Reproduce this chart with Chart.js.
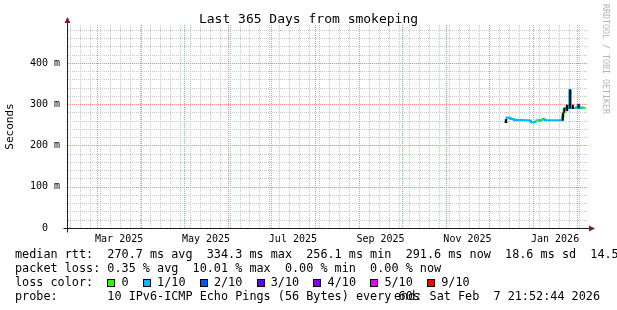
<!DOCTYPE html>
<html><head><meta charset="utf-8">
<script src="https://cdn.jsdelivr.net/npm/chart.js@4.4.1/dist/chart.umd.min.js"></script>
<style>
html,body{margin:0;padding:0;background:#fff;}
#wrap{position:relative;width:617px;height:310px;overflow:hidden;background:#fff;font-family:"DejaVu Sans Mono",monospace;}
#c{position:absolute;left:0;top:0;}
#title{position:absolute;left:0;width:617px;top:11px;text-align:center;font-size:13px;line-height:16px;color:#000;white-space:pre;}
#legend{position:absolute;left:15px;top:247px;font-size:11.8px;line-height:14px;white-space:pre;color:#000;}
#endtxt{position:absolute;right:17px;top:289px;font-size:11.8px;line-height:14px;white-space:pre;color:#000;}
.box{display:inline-block;width:8px;height:8px;box-sizing:border-box;border:1px solid #000;margin-right:calc(1ch - 8px);vertical-align:-1px;}
#rrd{position:absolute;left:601px;top:4px;writing-mode:vertical-rl;font-size:8.3px;color:#b4b4b4;white-space:pre;}
</style></head>
<body>
<div id="wrap">
<canvas id="c" width="617" height="310"></canvas>
<div id="title">Last 365 Days from smokeping</div>
<div id="legend"></div>
<div id="endtxt"></div>
<div id="rrd">RRDTOOL / TOBI OETIKER</div>
</div>
<script>
// ---- data ----
const sampleDates = ['2025-12-12','2025-12-13','2025-12-14','2025-12-15','2025-12-16','2025-12-17','2025-12-18','2025-12-19','2025-12-20','2025-12-21',
  '2025-12-22','2025-12-23','2025-12-24','2025-12-25','2025-12-26','2025-12-27','2025-12-28','2025-12-29','2025-12-30','2025-12-31',
  '2026-01-01','2026-01-02','2026-01-03','2026-01-04','2026-01-05','2026-01-06','2026-01-07','2026-01-08','2026-01-09','2026-01-10',
  '2026-01-11','2026-01-12','2026-01-13','2026-01-14','2026-01-15','2026-01-16','2026-01-17','2026-01-18','2026-01-19','2026-01-20',
  '2026-01-21','2026-01-22','2026-01-23','2026-01-24','2026-01-25','2026-01-26','2026-01-27','2026-01-28','2026-01-29','2026-01-30',
  '2026-01-31','2026-02-01','2026-02-02','2026-02-03','2026-02-04','2026-02-05','2026-02-06','2026-02-07'];
const medianRttMs = [257,257,268,268,266,264,264,262,261,262,
  261,262,261,262,261,261,261,261,260,256,
  256,256,258,261,262,260,262,265,263,261,
  261,261,261,261,261,261,261,261,261,261,
  262,270,288,290,296,291,334,292,291,291,
  291,293,297,292,291,292,291,291];
const lossTenths = [1,1,1,1,1,1,1,1,1,1,
  1,1,1,1,1,1,1,1,1,1,
  1,1,1,0,0,1,1,0,1,1,
  1,1,1,1,1,1,1,1,1,1,
  1,1,0,1,1,1,1,1,1,1,
  1,1,1,1,1,1,0,0];
const smokeDates = ['2025-12-13','2026-01-22','2026-01-23','2026-01-25','2026-01-27','2026-01-29','2026-02-02'];
const smokeLowMs  = [255,261,280,284,290,289,290];
const smokeHighMs = [263,279,291,298,335,298,300];

const xTickMonths = ['2025-03','2025-05','2025-07','2025-09','2025-11','2026-01'];
const xTickLabels = ['Mar 2025','May 2025','Jul 2025','Sep 2025','Nov 2025','Jan 2026'];
const yTickLabels = {0:'0  ',100:'100 m',200:'200 m',300:'300 m',400:'400 m'};

const lossLabels = ['0','1/10','2/10','3/10','4/10','5/10','9/10'];
const lossColors = ['#26ff00','#00b8ff','#0059ff','#5e00ff','#7e00ff','#dd00ff','#ff0000'];
const rttStats = ['270.7','334.3','256.1','291.6','18.6','14.5'];
const lossStats = ['0.35','10.01','0.00','0.00'];
const probeText = '10 IPv6-ICMP Echo Pings (56 Bytes) every 60s';
const endText = 'end: Sat Feb  7 21:52:44 2026';

// ---- time helpers ----
const startMs = Date.UTC(2025,1,7,21,52,44);
const endMs = Date.UTC(2026,1,7,21,52,44);
const DAY = 864e5;
const dayOf = s => (Date.parse(s+'T00:00:00Z') - startMs)/DAY;
const spanDays = (endMs-startMs)/DAY;

// month starts (major grid) & weekly Mondays (minor grid)
const monthStarts = [];
for (let y=2025,m=2; ; ) { const t=Date.UTC(y,m,1); if (t>endMs) break; monthStarts.push((t-startMs)/DAY); m++; if(m>11){m=0;y++;} }
const weekLines = [];
{ let t = Date.UTC(2025,1,10); while (t<=endMs) { if (new Date(t).getUTCDate()!==1) weekLines.push((t-startMs)/DAY); t+=7*DAY; } }
const gridTicks = monthStarts.concat(weekLines).sort((a,b)=>a-b);
const labelTicks = xTickMonths.map(s=>{ const a=Date.parse(s+'-01T00:00:00Z'); const [y,m]=s.split('-').map(Number); const b=Date.UTC(y,m,1); return ((a+b)/2-startMs)/DAY; });
const isMajorX = v => monthStarts.some(m => Math.abs(m - v) < 1e-6);

// ---- legend text ----
const lg = document.getElementById('legend');
let html = 'median rtt:  ' + rttStats[0]+' ms avg  '+rttStats[1]+' ms max  '+rttStats[2]+' ms min  '+rttStats[3]+' ms now  '+rttStats[4]+' ms sd  '+rttStats[5]+' am/s\n';
html += 'packet loss: '+lossStats[0]+' % avg  '+lossStats[1]+' % max  '+lossStats[2]+' % min  '+lossStats[3]+' % now\n';
html += 'loss color:  ' + lossLabels.map((l,i)=>'<span class="box" style="background:'+lossColors[i]+'"></span> '+l).join('  ') + '\n';
html += 'probe:       ' + probeText;
lg.innerHTML = html;
document.getElementById('endtxt').textContent = endText;

// ---- chart ----
const lineData = sampleDates.map((d,i)=>({x:dayOf(d), y:medianRttMs[i]}));
const smokeData = smokeDates.map((d,i)=>({x:dayOf(d), y:[smokeLowMs[i], smokeHighMs[i]]}));

const minorCol = '#c8c8c8';
const majorCol = '#eb8f8f';

// dotted rrdtool-style grid drawn from the library's own scale ticks
const gridPlugin = {
  id:'rrdGrid',
  beforeDatasetsDraw(chart){
    const {ctx, chartArea:a} = chart;
    const xs = chart.scales.xg, ys = chart.scales.y;
    ctx.save();
    ctx.lineWidth = 1;
    const L = Math.round(a.left), R = Math.round(a.right), T = Math.round(a.top), B = Math.round(a.bottom);
    for (const pass of [0,1]) {
      ctx.strokeStyle = pass ? majorCol : minorCol;
      ctx.setLineDash([1,1]);
      ys.ticks.forEach(t=>{
        if (t.value===0) return;
        const maj = t.value%100===0;
        if (maj !== !!pass) return;
        const y = Math.round(ys.getPixelForValue(t.value))+0.5;
        ctx.beginPath(); ctx.moveTo(L+1, y); ctx.lineTo(R, y); ctx.stroke();
      });
      xs.ticks.forEach(t=>{
        const maj = isMajorX(t.value);
        if (maj !== !!pass) return;
        const x = Math.round(xs.getPixelForValue(t.value))+0.5;
        ctx.beginPath(); ctx.moveTo(x, B); ctx.lineTo(x, T); ctx.stroke();
      });
    }
    ctx.restore();
  }
};

const axesPlugin = {
  id:'rrdAxes',
  afterDraw(chart){
    const {ctx, chartArea:a} = chart;
    const L = Math.round(a.left)+0.5, B = Math.round(a.bottom)+0.5, R = Math.round(a.right), T = Math.round(a.top);
    ctx.save();
    ctx.strokeStyle='#1f1f1f'; ctx.lineWidth=1;
    ctx.beginPath(); ctx.moveTo(L-4,B); ctx.lineTo(R+4,B); ctx.moveTo(L,B+4); ctx.lineTo(L,T-4); ctx.stroke();
    ctx.fillStyle='#801f1f';
    ctx.beginPath(); ctx.moveTo(R+8,B); ctx.lineTo(R+2,B-3); ctx.lineTo(R+2,B+3); ctx.closePath(); ctx.fill();
    ctx.beginPath(); ctx.moveTo(L,T-8); ctx.lineTo(L-3,T-2); ctx.lineTo(L+3,T-2); ctx.closePath(); ctx.fill();
    ctx.restore();
  }
};

new Chart(document.getElementById('c'), {
  type:'line',
  data:{ datasets:[
    { type:'bar', data:smokeData, backgroundColor:'#111', borderWidth:0, barThickness:1.5, grouped:false, order:0 },
    { type:'line', data:lineData, borderColor:lossColors[1], borderWidth:2, pointRadius:0, stepped:'middle', order:1,
      segment:{ borderColor: c => lossColors[lossTenths[c.p1DataIndex]] } }
  ]},
  options:{
    responsive:false, animation:false, devicePixelRatio:1,
    layout:{ padding:{ top:25, right:30, bottom:62, left:0 } },
    plugins:{ legend:{display:false}, tooltip:{enabled:false}, title:{display:false} },
    scales:{
      x:{ type:'linear', min:0, max:spanDays, position:'bottom', offset:false,
          grid:{display:false, drawTicks:false}, border:{display:false},
          afterBuildTicks: s => { s.ticks = labelTicks.map(v=>({value:v})); },
          afterFit: s => { s.height = 20; },
          ticks:{ autoSkip:false, maxRotation:0, padding:5, color:'#000',
                  font:{family:'"DejaVu Sans Mono", monospace', size:10},
                  callback:(v,i)=>xTickLabels[i] } },
      xg:{ type:'linear', min:0, max:spanDays, position:'bottom', offset:false,
          afterBuildTicks: s => { s.ticks = gridTicks.map(v=>({value:v})); },
          afterFit: s => { s.height = 0; },
          ticks:{ display:false }, border:{ display:false },
          grid:{ display:false, drawTicks:false } },
      y:{ type:'linear', min:0, max:492,
          afterBuildTicks: s => { const t=[]; for (let v=0; v<=492; v+=20) t.push({value:v}); s.ticks=t; },
          afterFit: s => { s.width = 67; },
          border:{ display:false },
          grid:{ display:false, drawTicks:false },
          ticks:{ autoSkip:false, padding:7, color:'#000',
                  font:{family:'"DejaVu Sans Mono", monospace', size:10},
                  callback: v => (yTickLabels[v] !== undefined ? yTickLabels[v] : '') },
          title:{ display:true, text:'Seconds', color:'#000', padding:{top:4,bottom:4},
                  font:{family:'"DejaVu Sans Mono", monospace', size:11} } }
    }
  },
  plugins:[gridPlugin, axesPlugin]
});
</script>
</body></html>
